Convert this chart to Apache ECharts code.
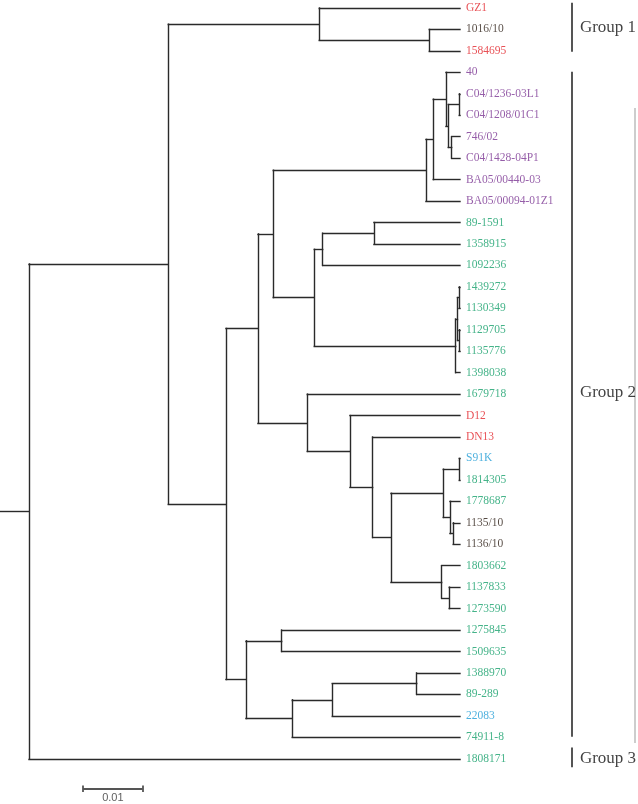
<!DOCTYPE html>
<html>
<head>
<meta charset="utf-8">
<script src="https://cdn.jsdelivr.net/npm/echarts@6/dist/echarts.min.js"></script>
<style>
  html, body { margin: 0; padding: 0; background: #ffffff; }
  #chart { width: 638px; height: 804px; }
</style>
</head>
<body>
<div id="chart"></div>
<script>
// ---- Tree data (Newick pieces, branch lengths in substitutions/site) ----
const group1Clade = "(GZ1:0.02357,(1016/10:0.00514,1584695:0.00514):0.01843):0.02529";
const purpleClade = "(((40:0.00235,((C04/1236-03L1:0.00012,C04/1208/01C1:0.00012):0.00184,(746/02:0.00139,C04/1428-04P1:0.00139):0.00057):0.00039):0.00213,BA05/00440-03:0.00447):0.00122,BA05/00094-01Z1:0.0057):0.02558";
const greenClade = "(((89-1591:0.01441,1358915:0.01441):0.00859,1092236:0.023):0.00141,(((1439272:0.00017,1130349:0.00017):0.00025,(1129705:0.00017,1135776:0.00017):0.00025):0.0003,1398038:0.00072):0.02369):0.00687";
const mixedClade = "(1679718:0.02558,(D12:0.01843,(DN13:0.01462,(((S91K:0.00012,1814305:0.00012):0.00268,(1778687:0.00168,(1135/10:0.00112,1136/10:0.00112):0.00055):0.00112):0.00876,(1803662:0.00307,(1137833:0.00179,1273590:0.00179):0.00127):0.00849):0.00307):0.0038):0.00715):0.00826";
const lowerClade = "((1275845:0.02987,1509635:0.02987):0.00598,(((1388970:0.00725,89-289:0.00725):0.01414,22083:0.02139):0.0067,74911-8:0.02809):0.00776):0.00335";
const group3Leaf = "1808171:0.0722";
const rootLength = 0.00486;

const newick =
  "((" + group1Clade + ",(((" + purpleClade + "," + greenClade + "):0.00256," + mixedClade + "):0.00536," +
  lowerClade + "):0.00966):0.02333," + group3Leaf + "):" + rootLength + ";";

// ---- Label colour classes ----
const redLeaves = ["GZ1", "1584695", "D12", "DN13"];
const blackLeaves = ["1016/10", "1135/10", "1136/10"];
const purpleLeaves = ["40", "C04/1236-03L1", "C04/1208/01C1", "746/02", "C04/1428-04P1", "BA05/00440-03", "BA05/00094-01Z1"];
const blueLeaves = ["S91K", "22083"];
// all remaining leaves are green

// ---- Groups (leaf-index ranges) ----
const groupNames = ["Group 1", "Group 2", "Group 3"];
const groupStart = [-0.25, 2.97, 34.47];
const groupEnd = [2.04, 33.97, 35.4];
const groupLabelY = [0.9, 17.95, 35.0];
const bracketX = 0.0958;
// faint outer bracket at the right edge
const outerBracketX = 0.10637;
const outerBracketRange = [4.66, 34.27];

// ---- Scale bar ----
const scaleBarStart = 0.0139;
const scaleBarLength = 0.01;
const scaleBarLabel = "0.01";
const scaleBarY = 36.4;

// ---- Parse Newick ----
function parseNewick(s) {
  let i = 0;
  function node() {
    const n = { children: [] };
    if (s[i] === '(') {
      i++;
      n.children.push(node());
      while (s[i] === ',') { i++; n.children.push(node()); }
      i++; // ')'
    }
    let name = '';
    while (i < s.length && !':,();'.includes(s[i])) name += s[i++];
    n.name = name;
    n.len = 0;
    if (s[i] === ':') {
      i++;
      let num = '';
      while (i < s.length && !',();'.includes(s[i])) num += s[i++];
      n.len = parseFloat(num);
    }
    return n;
  }
  return node();
}

const root = parseNewick(newick);
let leafCounter = 0;
const hSegs = [], vSegs = [], leaves = [];
function layout(n, parentX) {
  n.x = parentX + n.len;
  if (n.children.length === 0) {
    n.y = leafCounter++;
    leaves.push(n);
  } else {
    n.children.forEach(c => layout(c, n.x));
    const first = n.children[0], last = n.children[n.children.length - 1];
    n.y = (first.y + last.y) / 2;
    vSegs.push([[n.x, first.y], [n.x, last.y]]);
  }
  hSegs.push([[parentX, n.y], [n.x, n.y]]);
}
layout(root, 0);

function leafColor(name) {
  if (redLeaves.includes(name)) return '#e2262c';
  if (blackLeaves.includes(name)) return '#2b1d14';
  if (purpleLeaves.includes(name)) return '#7a3592';
  if (blueLeaves.includes(name)) return '#1f9cd6';
  return '#17a06c';
}

const treeLines = hSegs.concat(vSegs).map(c => ({ coords: c }));
const leafData = leaves.map(l => ({
  value: [l.x, l.y],
  name: l.name,
  label: { color: leafColor(l.name) }
}));
const bracketLines = groupNames.map((g, k) => ({ coords: [[bracketX, groupStart[k]], [bracketX, groupEnd[k]]] }));
const groupLabelData = groupNames.map((g, k) => ({ value: [bracketX, groupLabelY[k]], name: g }));
const scaleLines = [
  { coords: [[scaleBarStart, scaleBarY], [scaleBarStart + scaleBarLength, scaleBarY]] },
  { coords: [[scaleBarStart, scaleBarY - 0.15], [scaleBarStart, scaleBarY + 0.15]] },
  { coords: [[scaleBarStart + scaleBarLength, scaleBarY - 0.15], [scaleBarStart + scaleBarLength, scaleBarY + 0.15]] }
];

const chart = echarts.init(document.getElementById('chart'), null, { renderer: 'canvas' });
chart.setOption({
  animation: false,
  backgroundColor: '#ffffff',
  grid: { left: 0, top: 8, width: 597, height: 793.65 },
  xAxis: { type: 'value', min: 0, max: 0.1, show: false },
  yAxis: { type: 'value', inverse: true, min: 0, max: 37, show: false },
  series: [
    {
      type: 'lines', coordinateSystem: 'cartesian2d', clip: false, silent: true,
      lineStyle: { color: '#2a2a2a', width: 1.4, opacity: 1, cap: 'square' },
      data: treeLines
    },
    {
      type: 'scatter', clip: false, symbolSize: 0, silent: true,
      label: {
        show: true, position: 'right', distance: 6,
        fontFamily: 'Liberation Serif', fontSize: 11.5,
        formatter: p => p.name
      },
      data: leafData
    },
    {
      type: 'lines', coordinateSystem: 'cartesian2d', clip: false, silent: true,
      lineStyle: { color: '#555555', width: 2, opacity: 1 },
      data: bracketLines
    },
    {
      type: 'lines', coordinateSystem: 'cartesian2d', clip: false, silent: true,
      lineStyle: { color: '#bdbdbd', width: 1.5, opacity: 1 },
      data: [{ coords: [[outerBracketX, outerBracketRange[0]], [outerBracketX, outerBracketRange[1]]] }]
    },
    {
      type: 'scatter', clip: false, symbolSize: 0, silent: true,
      label: {
        show: true, position: 'right', distance: 8,
        fontFamily: 'Liberation Serif', fontSize: 17, color: '#111111',
        formatter: p => p.name
      },
      data: groupLabelData
    },
    {
      type: 'lines', coordinateSystem: 'cartesian2d', clip: false, silent: true,
      lineStyle: { color: '#555555', width: 1.8, opacity: 1 },
      data: scaleLines
    },
    {
      type: 'scatter', clip: false, symbolSize: 0, silent: true,
      label: {
        show: true, position: 'bottom', distance: 4,
        fontFamily: 'Liberation Sans', fontSize: 11, color: '#333333',
        formatter: () => scaleBarLabel
      },
      data: [[scaleBarStart + scaleBarLength / 2, scaleBarY]]
    }
  ]
});
</script>
</body>
</html>
